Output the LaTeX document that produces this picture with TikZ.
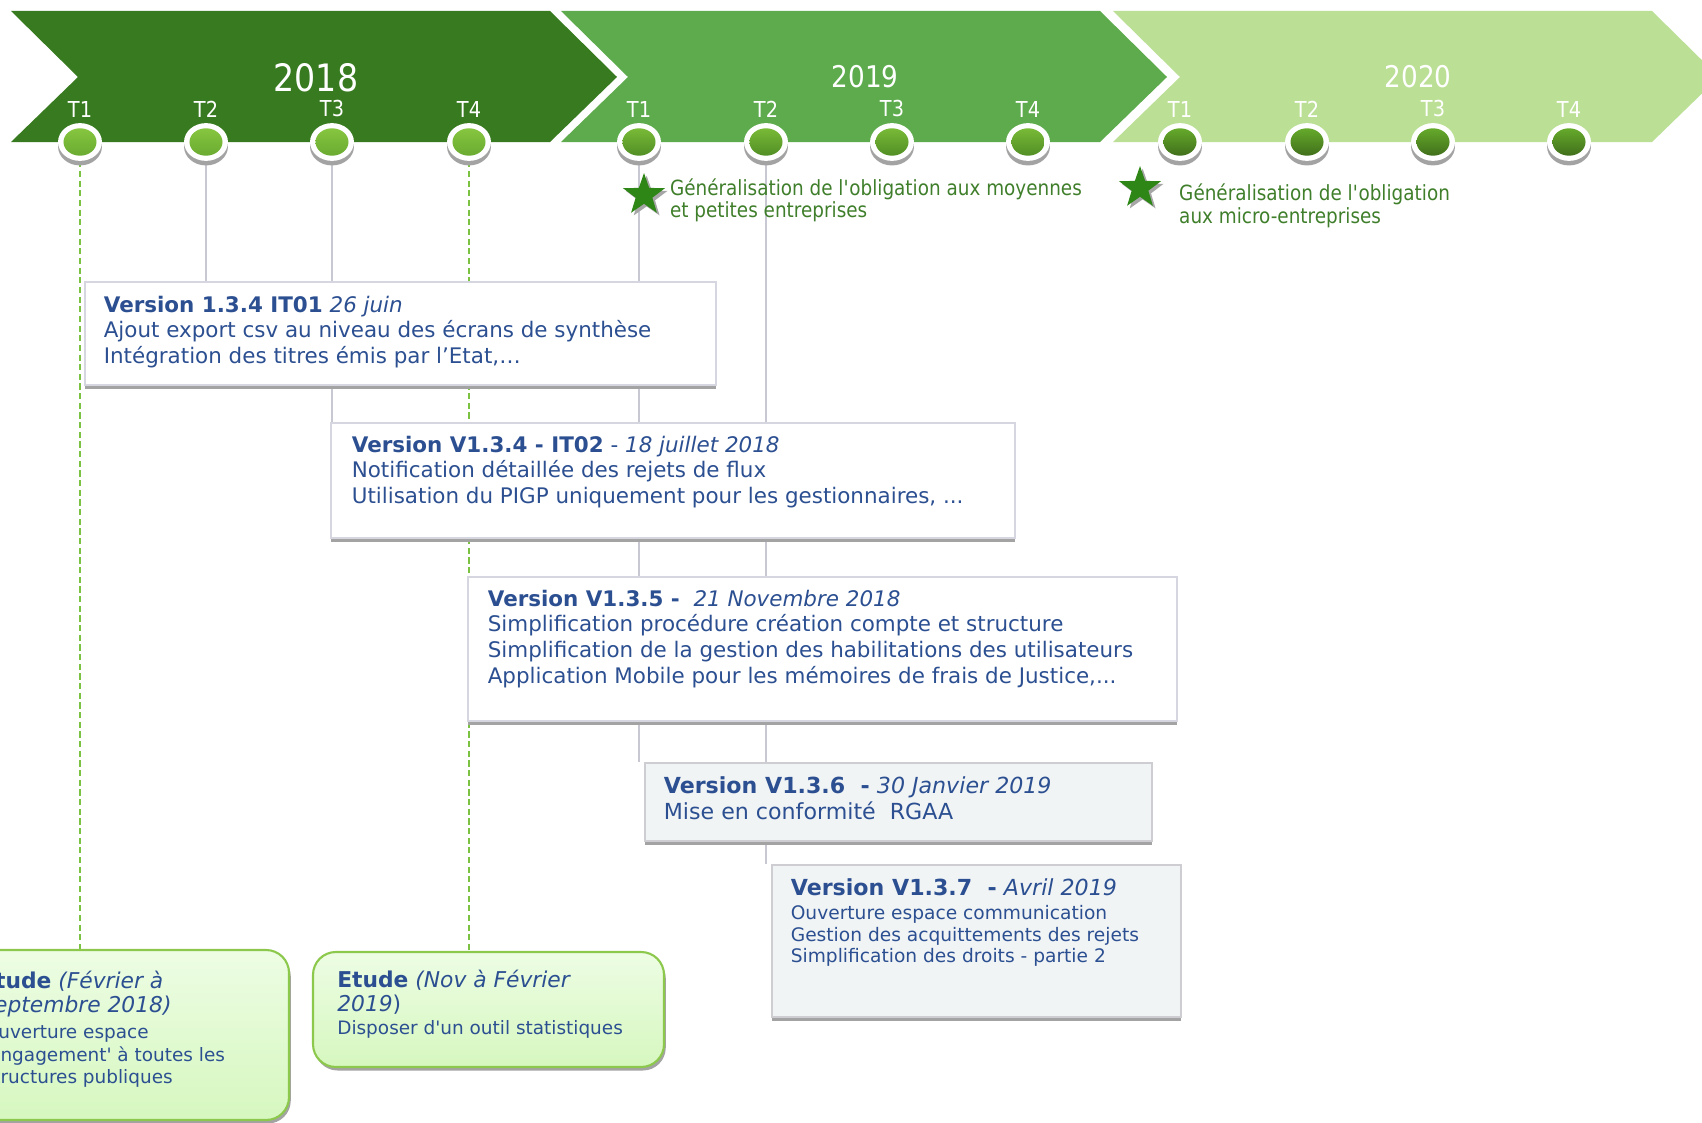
\documentclass[tikz,border=0pt]{standalone}
\usepackage{fontspec}
\setmainfont{DejaVu Sans}
\newfontfamily\tahoma[FakeStretch=0.88]{DejaVu Sans}
\usetikzlibrary{shapes.geometric,shadows,fit,positioning,backgrounds}

\definecolor{an18}{HTML}{377A1F}
\definecolor{an19}{HTML}{5DAB4C}
\definecolor{an20}{HTML}{BBDF95}
\definecolor{txtbleu}{HTML}{2B4F91}
\definecolor{txtvert}{HTML}{3F7E2A}
\definecolor{vertetoile}{HTML}{2E8616}
\definecolor{lignegris}{HTML}{C8C8D2}
\definecolor{pointille}{HTML}{7CC242}
\definecolor{bordgris}{HTML}{D6D6E0}
\definecolor{ombre}{HTML}{A3A3A3}
\definecolor{fondgris}{HTML}{F1F4F5}
\definecolor{bordvert}{HTML}{8CC84C}
\definecolor{etudehaut}{HTML}{EDFDE4}
\definecolor{etudebas}{HTML}{D6F7BF}
\definecolor{q18h}{HTML}{8CCB42}
\definecolor{q18b}{HTML}{64A52E}
\definecolor{q19h}{HTML}{80C23A}
\definecolor{q19b}{HTML}{4A8622}
\definecolor{q20h}{HTML}{6CB52E}
\definecolor{q20b}{HTML}{3A6418}

\tikzset{
  trimestre/.style 2 args={ellipse, minimum width=25pt, minimum height=21.5pt,
    inner sep=0pt, fill=white,
    drop shadow={shadow xshift=0pt, shadow yshift=-2.6pt, fill=ombre, opacity=1},
    path picture={\shade[top color=#1, bottom color=#2]
      (path picture bounding box.center) ellipse (9.4pt and 7.8pt);}},
  q18/.style={trimestre={q18h}{q18b}},
  q19/.style={trimestre={q19h}{q19b}},
  q20/.style={trimestre={q20h}{q20b}},
  tlab/.style={font=\tahoma\fontsize{12.5}{13}\selectfont, text=white,
    inner sep=0pt, label distance=3pt},
  annee/.style={text=white, inner sep=0pt},
  etoile/.style={star, star points=5, star point ratio=2.5, fill=vertetoile,
    minimum size=25pt, inner sep=0pt,
    drop shadow={shadow xshift=1.5pt, shadow yshift=-1.5pt, fill=gray!70, opacity=1}},
  etxt/.style={font=\tahoma\fontsize{11.9}{12.8}\selectfont, text=txtvert,
    align=left, inner sep=0pt},
  vbox/.style={draw=bordgris, fill=white, line width=0.6pt, inner sep=0pt,
    drop shadow={shadow xshift=0pt, shadow yshift=-2pt, fill=ombre, opacity=1}},
  gbox/.style={vbox, fill=fondgris, draw=bordgris!80!black!60},
  ebox/.style={draw=bordvert, line width=1.2pt, rounded corners=13pt,
    top color=etudehaut, bottom color=etudebas, inner sep=0pt,
    drop shadow={shadow xshift=1pt, shadow yshift=-2pt, fill=ombre, opacity=1}},
  vtxt/.style={anchor=north west, inner sep=0pt, align=left, text=txtbleu,
    font=\fontsize{12.2}{14.7}\selectfont},
  vgrand/.style={vtxt, font=\fontsize{12.6}{14.7}\selectfont},
  vpetit/.style={vtxt, font=\fontsize{10.6}{12.3}\selectfont},
  etitre/.style={vtxt, font=\fontsize{12.4}{13.8}\selectfont},
  epetit/.style={vtxt, font=\fontsize{10.5}{12.6}\selectfont},
  lgris/.style={draw=lignegris, line width=0.9pt},
  lvert/.style={draw=pointille, line width=0.8pt, dash pattern=on 3.5pt off 2pt}
}

\begin{document}
\begin{tikzpicture}[x=0.02cm, y=-0.02cm]
\path[use as bounding box, clip] (0,0) rectangle (1702,1122);

% bandeau des annees
\fill[an18] (11,11) -- (550,11) -- (617,77) -- (550,142) -- (11,142) -- (78,77) -- cycle;
\fill[an19] (561,11) -- (1100,11) -- (1167,77) -- (1100,142) -- (561,142) -- (628,77) -- cycle;
\fill[an20] (1113,11) -- (1652,11) -- (1719,77) -- (1652,142) -- (1113,142) -- (1180,77) -- cycle;

\node[annee, font=\tahoma\fontsize{21.5}{24}\selectfont] (y18) at (316,78) {2018};
\node[annee, font=\tahoma\fontsize{17}{20}\selectfont] (y19) at (865,77) {2019};
\node[annee, font=\tahoma\fontsize{17}{20}\selectfont] (y20) at (1418,77) {2020};

% trimestres
\foreach \nom/\x/\lab in {t181/80/T1, t182/206/T2, t183/332/T3, t184/469/T4}
  \node[q18, label={[tlab]above:\lab}] (\nom) at (\x,142) {};
\foreach \nom/\x/\lab in {t191/639/T1, t192/766/T2, t193/892/T3, t194/1028/T4}
  \node[q19, label={[tlab]above:\lab}] (\nom) at (\x,142) {};
\foreach \nom/\x/\lab in {t201/1180/T1, t202/1307/T2, t203/1433/T3, t204/1569/T4}
  \node[q20, label={[tlab]above:\lab}] (\nom) at (\x,142) {};

% obligations
\node[etoile] (s1) at (644,195) {};
\node[etxt, right=7.5pt of s1, yshift=-3pt] (e1) {Généralisation de l\textquotesingle obligation aux moyennes\\et petites entreprises};
\node[etoile] (s2) at (1140,188) {};
\node[etxt, right=15pt of s2, yshift=-10pt] (e2) {Généralisation de l\textquotesingle obligation\\aux micro-entreprises};

% versions
\node[vbox, fit={(85,282) (716,385)}] (v1) {};
\node[vtxt] (v1t) at ([shift={(19,14)}]v1.north west)
  {\textbf{Version 1.3.4 IT01} \textit{26 juin}\\
   Ajout export csv au niveau des écrans de synthèse\\
   Intégration des titres émis par l’Etat,…};

\node[vbox, fit={(331,423) (1015,538)}] (v2) {};
\node[vtxt] (v2t) at ([shift={(21,13)}]v2.north west)
  {\textbf{Version V1.3.4 - IT02} - \textit{18 juillet 2018}\\
   Notification détaillée des rejets de flux\\
   Utilisation du PIGP uniquement pour les gestionnaires, ...};

\node[vbox, fit={(468,577) (1177,721)}] (v3) {};
\node[vtxt] (v3t) at ([shift={(20,13)}]v3.north west)
  {\textbf{Version V1.3.5 -}\ \ \textit{21 Novembre 2018}\\
   Simplification procédure création compte et structure\\
   Simplification de la gestion des habilitations des utilisateurs\\
   Application Mobile pour les mémoires de frais de Justice,...};

\node[gbox, fit={(645,763) (1152,841)}] (v4) {};
\node[vgrand] (v4t) at ([shift={(19,14)}]v4.north west)
  {\textbf{Version V1.3.6\ \ -} \textit{30 Janvier 2019}\\
   Mise en conformité\ \ RGAA};

\node[gbox, fit={(772,865) (1181,1017)}] (v5) {};
\node[vgrand] (v5t) at ([shift={(19,14)}]v5.north west)
  {\textbf{Version V1.3.7\ \ -} \textit{Avril 2019}};
\node[vpetit, below right=5pt and 0pt of v5t.south west] (v5b)
  {Ouverture espace communication\\
   Gestion des acquittements des rejets\\
   Simplification des droits - partie 2};

% etudes
\node[ebox, fit={(-51,950) (289,1120)}] (eb1) {};
\node[etitre] (eb1t) at ([shift={(32,22)}]eb1.north west)
  {\textbf{Etude} \textit{(Février à}\\ \textit{Septembre 2018)}};
\node[epetit, below right=4pt and 2pt of eb1t.south west] (eb1b)
  {Ouverture espace\\
   \textquotesingle Engagement\textquotesingle{} à toutes les\\
   structures publiques};

\node[ebox, fit={(313,952) (664,1067)}] (eb2) {};
\node[etitre] (eb2t) at ([shift={(25,19)}]eb2.north west)
  {\textbf{Etude} \textit{(Nov à Février}\\ \textit{2019})};
\node[epetit, below right=3pt and 0pt of eb2t.south west] (eb2b)
  {Disposer d\textquotesingle un outil statistiques};

% liaisons
\begin{scope}[on background layer]
\draw[lvert] (t181.south) -- (t181.south |- eb1.north);
\draw[lvert] (t184.south) -- (t184.south |- eb2.north);
\draw[lgris] (t182.south) -- (t182.south |- v1.north);
\draw[lgris] (t183.south) -- (t183.south |- v2.north);
\draw[lgris] (t191.south) -- (t191.south |- v4.north);
\draw[lgris] (t192.south) -- (t192.south |- v5.north);
\end{scope}
\end{tikzpicture}
\end{document}
